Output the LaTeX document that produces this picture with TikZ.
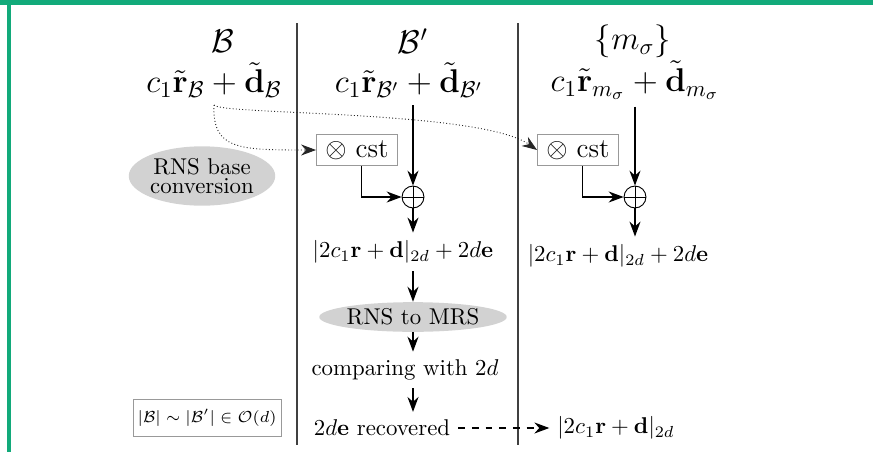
\documentclass[tikz,border=0pt]{standalone}
\usepackage{xcolor}
\usepackage{tikz}
\usetikzlibrary{arrows.meta,positioning,shapes.geometric}

\definecolor{frameg}{RGB}{18,170,122}

\begin{document}
\begin{tikzpicture}[
  x=0.438pt, y=-0.438pt,
  font=\normalsize,
  hdr/.style={font=\Large, inner sep=0pt},
  cst/.style={rectangle, draw=gray!80, thin, font=\large,
              minimum width=35.5pt, minimum height=13.6pt, inner sep=2pt},
  conv/.style={ellipse, fill=gray!35, align=center, inner sep=0pt,
               minimum width=63.5pt, minimum height=24.5pt},
  plus/.style={circle, draw, thin, minimum size=9.6pt, inner sep=0pt,
               path picture={\draw (path picture bounding box.north) -- (path picture bounding box.south)
                                   (path picture bounding box.west) -- (path picture bounding box.east);}},
  szbox/.style={rectangle, draw=gray!80, thin, font=\scriptsize,
                minimum width=60pt, minimum height=16pt, inner sep=2pt},
  arr/.style={-{Stealth[length=2.3mm, width=1.7mm]}, semithick},
  dotarr/.style={-{Stealth[length=2.3mm, width=1.7mm]}, densely dotted, thin, black!85},
  sep/.style={line width=0.5pt, black!75}
]
\useasboundingbox (0,0) rectangle (873,452);
\fill[frameg] (0,0) rectangle (873,5);
\fill[frameg] (7,0) rectangle (11,452);

% headers
\node[hdr] (hB)  at (223,41) {$\mathcal{B}$};
\node[hdr] (eB)  at (214,80) {$c_1\tilde{\mathbf{r}}_{\mathcal{B}}+\tilde{\mathbf{d}}_{\mathcal{B}}$};
\node[hdr] (hBp) at (413,41) {$\mathcal{B}'$};
\node[hdr] (eBp) at (409,80) {$c_1\tilde{\mathbf{r}}_{\mathcal{B}'}+\tilde{\mathbf{d}}_{\mathcal{B}'}$};
\node[hdr] (hM)  at (633,41) {$\{m_\sigma\}$};
\node[hdr] (eM)  at (635,80) {$c_1\tilde{\mathbf{r}}_{m_\sigma}+\tilde{\mathbf{d}}_{m_\sigma}$};

\draw[sep] (297,23) -- (297,445);
\draw[sep] (518,23) -- (518,445);

\node[conv, minimum height=26pt] (conv) at (202,176) {RNS base\\[-3.5pt]conversion};
\node[szbox] (size) at (207,418) {$|\mathcal{B}|\sim|\mathcal{B}'|\in\mathcal{O}(d)$};

% column B'
\node[cst]  (cstB)  at (357,150) {$\otimes$ cst};
\node[plus] (plusB) at (413,197) {};
\node (sumB) at (403,252) {$|2c_1\mathbf{r}+\mathbf{d}|_{2d}+2d\mathbf{e}$};
\node[conv, minimum width=73pt, minimum height=13pt] (mrs) at (413,317) {RNS to MRS};
\node (cmp) at (405,370) {comparing with $2d$};
\node (rec) at (382,428) {$2d\mathbf{e}$ recovered};

% column m_sigma
\node[cst]  (cstM)  at (578,150) {$\otimes$ cst};
\node[plus] (plusM) at (635,197) {};
\node (sumM) at (618,256) {$|2c_1\mathbf{r}+\mathbf{d}|_{2d}+2d\mathbf{e}$};
\node (res)  at (616,428) {$|2c_1\mathbf{r}+\mathbf{d}|_{2d}$};

\draw[dotarr] ([yshift=-3pt]eB.south) .. controls (212,150) and (240,150) .. (cstB.west);
\draw[dotarr] ([yshift=-3pt]eB.south) .. controls (220,115) and (480,110) .. (cstM.west);
\draw[arr] ([yshift=-3pt]eBp.south -| plusB) -- (plusB);
\draw[arr] ([yshift=-3pt]eM.south -| plusM)  -- (plusM);
\draw[arr] ([xshift=2pt]cstB.south) |- (plusB);
\draw[arr] ([xshift=2pt]cstM.south) |- (plusM);
\draw[arr] (plusB) -- (sumB.north -| plusB);
\draw[arr] (plusM) -- (sumM.north -| plusM);
\draw[arr] (sumB.south -| mrs) -- (mrs);
\draw[arr] (mrs) -- (cmp.north -| mrs);
\draw[arr] (cmp.south -| mrs) -- (rec.north -| mrs);
\draw[arr, dashed] (rec) -- (res);
\end{tikzpicture}
\end{document}
